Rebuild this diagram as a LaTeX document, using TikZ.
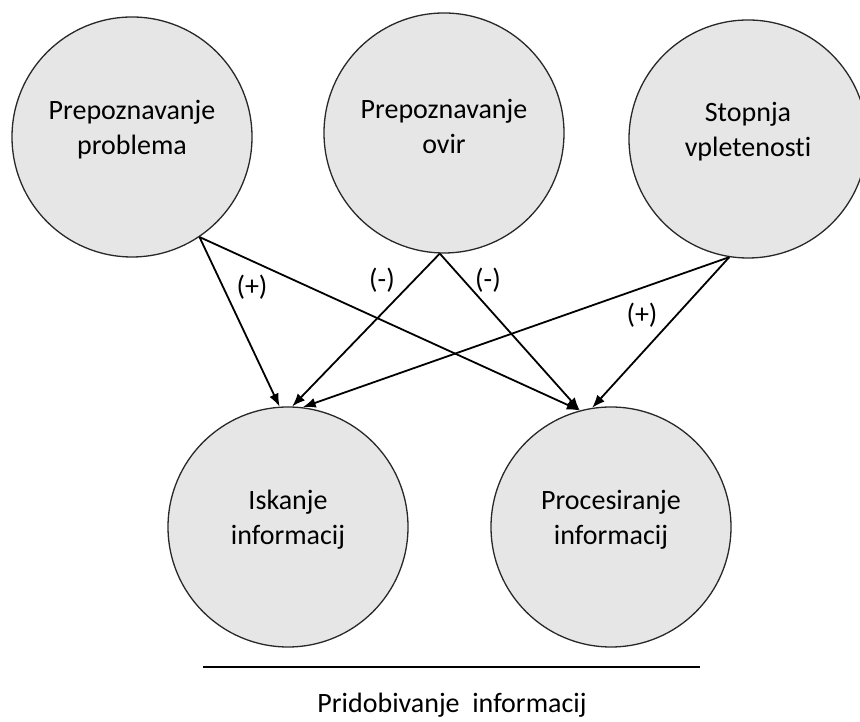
\documentclass[tikz,border=0pt]{standalone}
\usepackage{fontspec}
\setmainfont{Carlito}[Ligatures=NoCommon]
\usetikzlibrary{arrows.meta}
\definecolor{bubfill}{RGB}{230,230,230}
\definecolor{bubline}{RGB}{40,40,40}
\tikzset{
  bub/.style ={circle,draw=bubline,line width=1.3pt,fill=bubfill,minimum size=240pt,inner sep=0pt},
  txt/.style ={align=center,font=\fontsize{28}{35}\selectfont,yshift=7pt},
  lab/.style ={font=\fontsize{28}{35}\selectfont,inner sep=0pt},
  ar/.style  ={-{Latex[length=13pt,width=10pt]},line width=1.8pt},
}
\begin{document}
\begin{tikzpicture}[x=1pt,y=1pt]
  \useasboundingbox (0,0) rectangle (860,722);
  % upper row
  \node[bub,label={[txt]center:{Prepoznavanje\\problema}}] (pprob) at (132,585) {};
  \node[bub,label={[txt]center:{Prepoznavanje\\ovir}}]     (povir) at (444,589) {};
  \node[bub,minimum size=238pt,label={[txt]center:{Stopnja\\vpletenosti}}] (stop) at (748,583) {};
  % lower row
  \node[bub,label={[txt]center:{Iskanje\\informacij}}]      (isk)  at (288,195) {};
  \node[bub,label={[txt]center:{Procesiranje\\informacij}}] (proc) at (611,195) {};
  % arrows
  \draw[ar] (pprob.-56) -- (isk.94);
  \draw[ar] (pprob.-56) -- (proc.105);
  \draw[ar] (povir.-92) -- (isk.88);
  \draw[ar] (povir.-92) -- (proc.105);
  \draw[ar] (stop.-99)  -- (isk.83);
  \draw[ar] (stop.-99)  -- (proc.99);
  \node[lab] (s1) at (252,435) {(+)};
  \node[lab] (s2) at (382,442) {(-)};
  \node[lab] (s3) at (488,442) {(-)};
  \node[lab] (s4) at (642,407) {(+)};
  % bottom
  \coordinate (la) at (203,55);
  \coordinate (lb) at (700,55);
  \draw[line width=1.8pt] (la) -- (lb);
  \node[lab] (prid) at (452,17) {Pridobivanje\ \ informacij};
\end{tikzpicture}
\end{document}
